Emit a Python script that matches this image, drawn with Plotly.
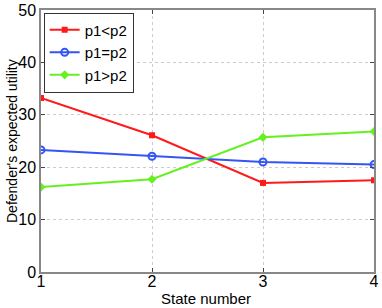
import plotly.graph_objects as go

states = [1, 2, 3, 4]
p1_lt_p2 = [33.2, 26.1, 17.0, 17.5]
p1_eq_p2 = [23.3, 22.1, 21.0, 20.5]
p1_gt_p2 = [16.2, 17.7, 25.7, 26.8]
names = ["p1<p2", "p1=p2", "p1>p2"]

fig = go.Figure()
fig.add_trace(go.Scatter(x=states, y=p1_lt_p2, name=names[0], mode="lines+markers",
                         line=dict(color="#ff1a1a", width=2),
                         marker=dict(symbol="square", size=6, color="#ff1a1a")))
fig.add_trace(go.Scatter(x=states, y=p1_eq_p2, name=names[1], mode="lines+markers",
                         line=dict(color="#3355f5", width=2),
                         marker=dict(symbol="circle-open", size=7, color="#3355f5", line=dict(width=2))))
fig.add_trace(go.Scatter(x=states, y=p1_gt_p2, name=names[2], mode="lines+markers",
                         line=dict(color="#66f022", width=2),
                         marker=dict(symbol="diamond", size=7, color="#66f022")))

font = "Liberation Sans, Arial, sans-serif"
W, H = 382, 308
L, R, T, B = 41, 8, 10, 36
pw, ph = W - L - R, H - T - B
fig.update_layout(
    width=W, height=H,
    margin=dict(l=L, r=R, t=T, b=B, autoexpand=False),
    paper_bgcolor="white", plot_bgcolor="white",
    font=dict(family=font, size=16, color="black"),
    showlegend=True,
    legend=dict(x=0.008, y=0.99, xanchor="left", yanchor="top",
                bordercolor="#333", borderwidth=1, bgcolor="white",
                font=dict(size=15), tracegroupgap=0,
                itemwidth=30),
    xaxis=dict(range=[1, 4], tickvals=states, ticks="inside", ticklen=4,
               showline=True, linecolor="#888", linewidth=1.5, mirror="ticks",
               showgrid=True, gridcolor="#cccccc", griddash="dot", gridwidth=1,
               zeroline=False, ticklabeloverflow="allow", automargin=False,
               ticklabelstandoff=-6,
               tickfont=dict(size=16)),
    yaxis=dict(range=[0, 50], tickvals=[0, 10, 20, 30, 40, 50], ticks="inside", ticklen=4,
               showline=True, linecolor="#888", linewidth=1.5, mirror="ticks",
               showgrid=True, gridcolor="#cccccc", griddash="dot", gridwidth=1,
               zeroline=False, ticklabeloverflow="allow", automargin=False,
               tickfont=dict(size=16)),
    annotations=[
        dict(text="State number", xref="paper", yref="paper",
             x=(206 - L) / pw, y=-26 / ph, xanchor="center", yanchor="middle",
             showarrow=False, font=dict(size=15)),
        dict(text="Defender's expected utility", xref="paper", yref="paper",
             x=(12 - L) / pw, y=(272 - 141) / ph, xanchor="center", yanchor="middle",
             textangle=-90, showarrow=False, font=dict(size=14)),
    ],
)
fig.write_html("out.html", config={"displayModeBar": False},
               post_script="document.body.style.margin='0';document.body.style.padding='0';")
